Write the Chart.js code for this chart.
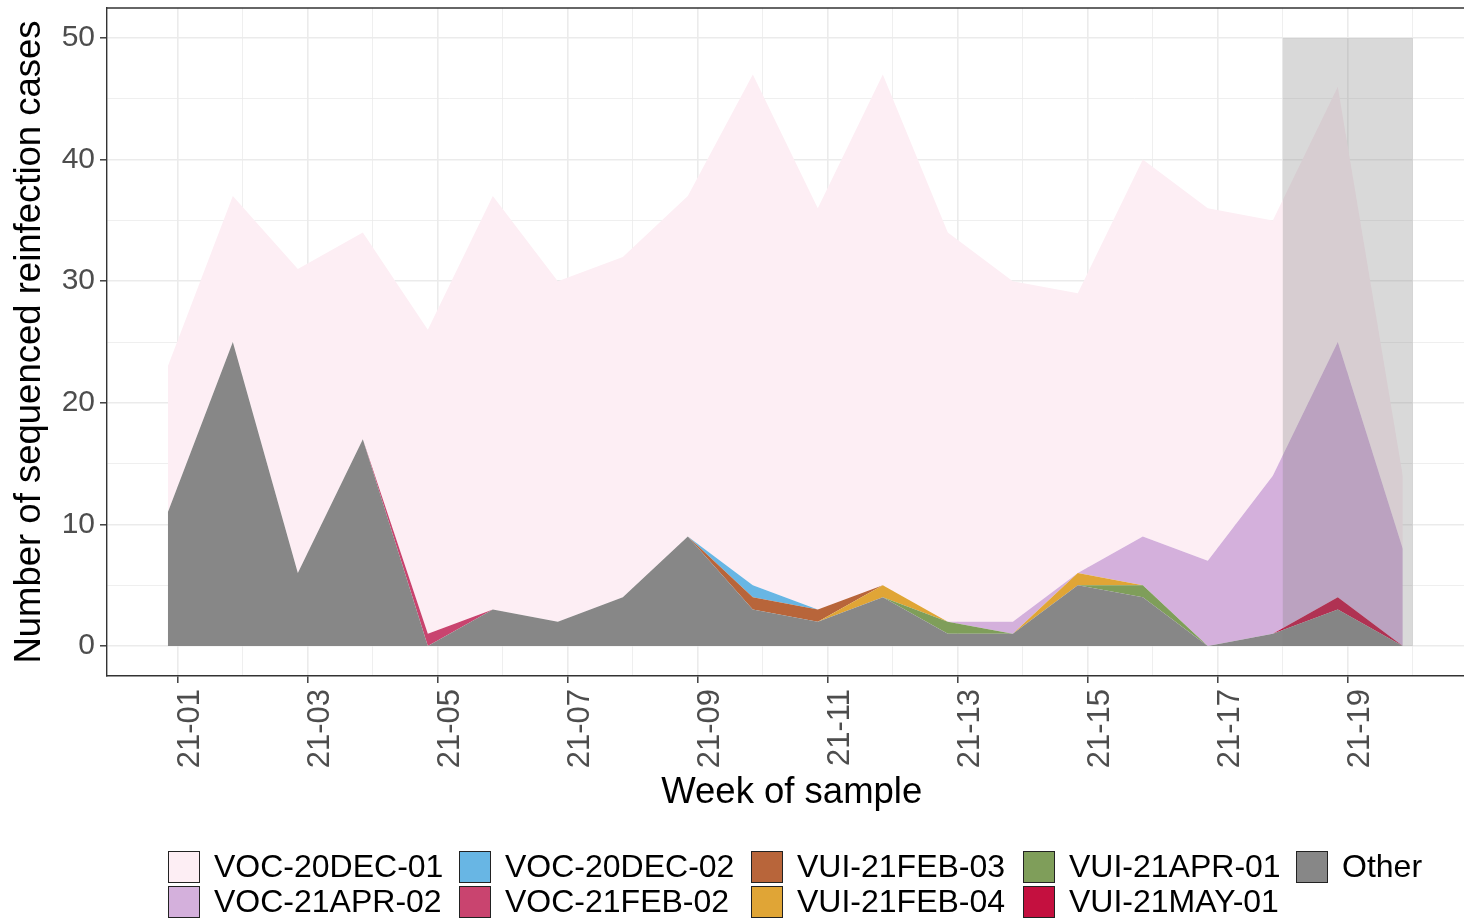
<!DOCTYPE html>
<html lang="en">
<head>
    <meta charset="UTF-8">
    <title>Sequenced reinfection cases by week</title>
    <script src="https://cdn.jsdelivr.net/npm/chart.js"></script>
    <style>
        html, body { margin: 0; padding: 0; background: #fff; overflow: hidden; }
        #wrap { position: relative; width: 1464px; height: 920px; overflow: hidden; }
        #chart { position: absolute; left: 0; top: 0; }
        .key { position: absolute; display: flex; align-items: center; height: 33px; white-space: nowrap;
               font-family: "Liberation Sans", Arial, sans-serif; font-size: 32px; color: #000; }
        .key .box { width: 30px; height: 30px; border: 1.5px solid #222; margin-right: 14px; flex: none; }
    </style>
</head>
<body>
<div id="wrap">
    <canvas id="chart" width="1480" height="920"></canvas>
    <div id="legend"></div>
</div>
<script>
    // week of sample (tick labels, every other one shown)
    const weekLabels = ['21-01','21-02','21-03','21-04','21-05','21-06','21-07','21-08','21-09','21-10',
                        '21-11','21-12','21-13','21-14','21-15','21-16','21-17','21-18','21-19','21-20'];

    // counts per week, one array per lineage
    const other      = [11, 25, 6, 17, 0, 3, 2, 4, 9, 3, 2, 4, 1, 1, 5, 4, 0, 1, 3, 0];
    const vui21may01 = [0, 0, 0, 0, 0, 0, 0, 0, 0, 0, 0, 0, 0, 0, 0, 0, 0, 0, 1, 0];
    const vui21apr01 = [0, 0, 0, 0, 0, 0, 0, 0, 0, 0, 0, 0, 1, 0, 0, 1, 0, 0, 0, 0];
    const vui21feb04 = [0, 0, 0, 0, 0, 0, 0, 0, 0, 0, 0, 1, 0, 0, 1, 0, 0, 0, 0, 0];
    const vui21feb03 = [0, 0, 0, 0, 0, 0, 0, 0, 0, 1, 1, 0, 0, 0, 0, 0, 0, 0, 0, 0];
    const voc21feb02 = [0, 0, 0, 0, 1, 0, 0, 0, 0, 0, 0, 0, 0, 0, 0, 0, 0, 0, 0, 0];
    const voc20dec02 = [0, 0, 0, 0, 0, 0, 0, 0, 0, 1, 0, 0, 0, 0, 0, 0, 0, 0, 0, 0];
    const voc21apr02 = [0, 0, 0, 0, 0, 0, 0, 0, 0, 0, 0, 0, 0, 1, 0, 4, 7, 13, 21, 8];
    const voc20dec01 = [12, 12, 25, 17, 25, 34, 28, 28, 28, 42, 33, 42, 32, 28, 23, 31, 29, 21, 21, 6];

    // samples sit a little before the week tick
    const weekShift = -0.154;

    // shaded (incomplete) weeks
    const shadeFrom = 18, shadeTo = 20, shadeTop = 50;

    // stacking order, bottom first
    const seriesNames  = ['Other', 'VUI-21MAY-01', 'VUI-21APR-01', 'VUI-21FEB-04', 'VUI-21FEB-03',
                          'VOC-21FEB-02', 'VOC-20DEC-02', 'VOC-21APR-02', 'VOC-20DEC-01'];
    const seriesValues = [other, vui21may01, vui21apr01, vui21feb04, vui21feb03,
                          voc21feb02, voc20dec02, voc21apr02, voc20dec01];
    const seriesColors = ['#878787', '#c4103f', '#7f9e5a', '#e0a536', '#b8653a',
                          '#c9446f', '#68b6e4', '#d4b0dc', '#fdeef4'];

    const legendOrder = ['VOC-20DEC-01', 'VOC-21APR-02', 'VOC-20DEC-02', 'VOC-21FEB-02', 'VUI-21FEB-03',
                         'VUI-21FEB-04', 'VUI-21APR-01', 'VUI-21MAY-01', 'Other'];

    const xMin = -0.09, xMax = 20.98;
    const yMin = -2.47, yMax = 52.47;
    const yTickValues = [0, 5, 10, 15, 20, 25, 30, 35, 40, 45, 50];

    Chart.defaults.font.family = '"Liberation Sans", Arial, sans-serif';

    const datasets = seriesNames.map((name, s) => ({
        label: name,
        data: seriesValues[s].map((v, i) => ({ x: i + 1 + weekShift, y: v })),
        backgroundColor: seriesColors[s],
        borderColor: 'rgba(0,0,0,0)',
        borderWidth: 0,
        pointRadius: 0,
        tension: 0,
        fill: s === 0 ? 'origin' : '-1'
    }));

    const panelExtras = {
        id: 'panelExtras',
        afterDatasetsDraw(chart) {
            const { ctx, chartArea, scales } = chart;
            const x0 = scales.x.getPixelForValue(shadeFrom);
            const x1 = scales.x.getPixelForValue(shadeTo);
            const y0 = scales.y.getPixelForValue(shadeTop);
            const y1 = scales.y.getPixelForValue(0);
            ctx.save();
            ctx.fillStyle = 'rgba(128,128,128,0.3)';
            ctx.fillRect(x0, y0, x1 - x0, y1 - y0);
            ctx.strokeStyle = '#333';
            ctx.lineWidth = 1.4;
            ctx.beginPath();
            ctx.moveTo(chartArea.left, chartArea.top);
            ctx.lineTo(chartArea.right, chartArea.top);
            ctx.stroke();
            ctx.restore();
        }
    };

    const majorX = v => v % 2 === 1;
    const majorY = v => v % 10 === 0;

    new Chart(document.getElementById('chart'), {
        type: 'line',
        data: { datasets: datasets },
        options: {
            responsive: false,
            animation: false,
            devicePixelRatio: 1,
            layout: { padding: { left: 0, top: 8, right: 3.5, bottom: 100 } },
            plugins: { legend: { display: false }, tooltip: { enabled: false } },
            scales: {
                x: {
                    type: 'linear',
                    min: xMin,
                    max: xMax,
                    afterBuildTicks: s => { s.ticks = weekLabels.map((w, i) => ({ value: i + 1 })); },
                    afterFit: s => { s.height = 144; s.paddingLeft = 0; s.paddingRight = 0; },
                    ticks: {
                        autoSkip: false,
                        minRotation: 90,
                        maxRotation: 90,
                        labelOffset: 13,
                        padding: 6,
                        color: '#4d4d4d',
                        font: { size: 31 },
                        callback: v => (majorX(v) ? weekLabels[v - 1] : '')
                    },
                    grid: {
                        color: '#ebebeb',
                        lineWidth: c => (c.tick && majorX(c.tick.value) ? 1.6 : 0.8),
                        tickLength: 7,
                        tickWidth: 1.4,
                        tickColor: c => (c.tick && majorX(c.tick.value) ? '#333' : 'rgba(0,0,0,0)')
                    },
                    border: { color: '#333', width: 1.4 },
                    title: {
                        display: true,
                        text: 'Week of sample',
                        color: '#000',
                        font: { size: 36.5 },
                        padding: { top: 0, bottom: 5 }
                    }
                },
                y: {
                    stacked: true,
                    min: yMin,
                    max: yMax,
                    afterBuildTicks: s => { s.ticks = yTickValues.map(v => ({ value: v })); },
                    afterFit: s => { s.width = 107; s.paddingTop = 0; s.paddingBottom = 0; },
                    ticks: {
                        padding: 5,
                        color: '#4d4d4d',
                        font: { size: 30 },
                        callback: v => (majorY(v) ? String(v) : '')
                    },
                    grid: {
                        color: '#ebebeb',
                        lineWidth: c => (c.tick && majorY(c.tick.value) ? 1.6 : 0.8),
                        tickLength: 7,
                        tickWidth: 1.4,
                        tickColor: c => (c.tick && majorY(c.tick.value) ? '#333' : 'rgba(0,0,0,0)')
                    },
                    border: { color: '#333', width: 1.4 },
                    title: {
                        display: true,
                        text: 'Number of sequenced reinfection cases',
                        color: '#000',
                        font: { size: 36.5 },
                        padding: { top: 8, bottom: 0 }
                    }
                }
            }
        },
        plugins: [panelExtras]
    });

    // legend laid out in columns like the original (two rows, filled column by column)
    const legendCols = [168, 459, 751, 1023, 1296];
    const legendRows = [850, 885];
    const legend = document.getElementById('legend');
    legendOrder.forEach((name, n) => {
        const s = seriesNames.indexOf(name);
        const item = document.createElement('div');
        item.className = 'key';
        item.style.left = legendCols[Math.floor(n / 2)] + 'px';
        item.style.top = legendRows[n % 2] + 'px';
        item.innerHTML = '<span class="box" style="background:' + seriesColors[s] + '"></span>' + name;
        legend.appendChild(item);
    });
</script>
</body>
</html>
